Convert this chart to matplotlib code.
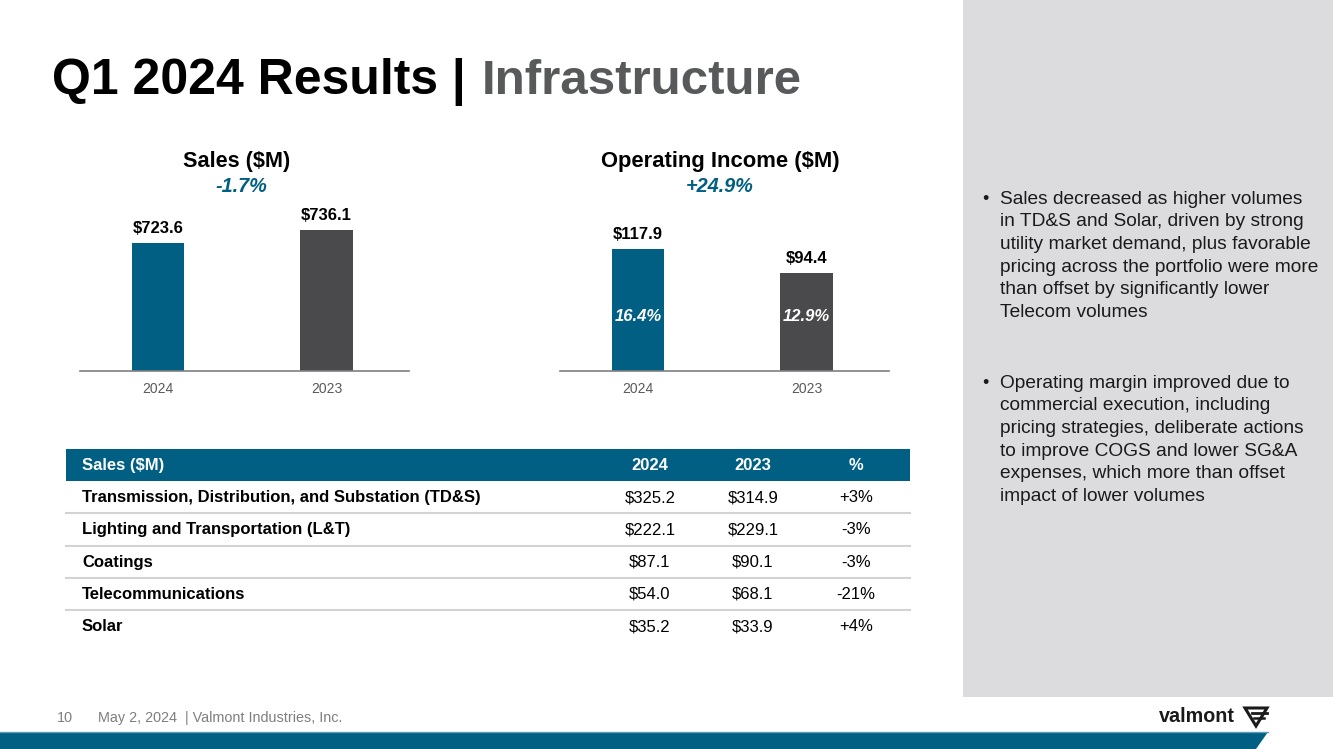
import matplotlib.pyplot as plt
from matplotlib.patches import Rectangle, Polygon

plt.rcParams['font.family'] = ['Liberation Sans', 'DejaVu Sans']

BLUE = '#005F83'
DGRAY = '#4A4A4D'
PANEL = '#DCDCDE'

years = ['2024', '2023']
sales = [723.6, 736.1]
sales_lbl = ['$723.6', '$736.1']
sales_chg = '-1.7%'
op_inc = [117.9, 94.4]
op_lbl = ['$117.9', '$94.4']
op_chg = '+24.9%'
margins = ['16.4%', '12.9%']

tbl_head = ['Sales ($M)', '2024', '2023', '%']
segments = ['Transmission, Distribution, and Substation (TD&S)',
            'Lighting and Transportation (L&T)', 'Coatings',
            'Telecommunications', 'Solar']
seg_2024 = ['$325.2', '$222.1', '$87.1', '$54.0', '$35.2']
seg_2023 = ['$314.9', '$229.1', '$90.1', '$68.1', '$33.9']
seg_pct = ['+3%', '-3%', '-3%', '-21%', '+4%']

bullet1 = ['Sales decreased as higher volumes',
           'in TD&S and Solar, driven by strong',
           'utility market demand, plus favorable',
           'pricing across the portfolio were more',
           'than offset by significantly lower',
           'Telecom volumes']
bullet2 = ['Operating margin improved due to',
           'commercial execution, including',
           'pricing strategies, deliberate actions',
           'to improve COGS and lower SG&A',
           'expenses, which more than offset',
           'impact of lower volumes']

W, H = 1333, 749
fig = plt.figure(figsize=(W / 100, H / 100), dpi=100)
fig.patch.set_facecolor('white')

# background layer in pixel coordinates
bg = fig.add_axes([0, 0, 1, 1], zorder=0)
bg.set_xlim(0, W)
bg.set_ylim(H, 0)
bg.axis('off')

bg.add_patch(Rectangle((963, 0), W - 963, 697, color=PANEL, lw=0))
bg.add_patch(Polygon([(0, 732), (1268, 732), (1256, 749), (0, 749)], closed=True,
                     color=BLUE, lw=0))
bg.plot([0, 1268], [731.5, 731.5], color='#5E9DB8', lw=1)

# title
bg.text(52, 82, 'Q1 2024 Results |', fontsize=36, fontweight='bold', color='black',
        va='center', ha='left')
bg.text(482, 82, 'Infrastructure', fontsize=35.5, fontweight='bold', color='#58595B',
        va='center', ha='left')

# chart titles
bg.text(237, 161, 'Sales ($M)', fontsize=15.6, fontweight='bold', ha='center', va='center')
bg.text(241, 187, sales_chg, fontsize=14.3, fontweight='bold', style='italic', color=BLUE,
        ha='center', va='center')
bg.text(720, 161, 'Operating Income ($M)', fontsize=15.8, fontweight='bold', ha='center',
        va='center')
bg.text(720, 187, op_chg, fontsize=14.3, fontweight='bold', style='italic', color=BLUE,
        ha='center', va='center')


def bar_axes(left_px, lo, hi):
    ax = fig.add_axes([left_px / W, (H - 371) / H, 329 / W, 171 / H], zorder=2)
    ax.patch.set_alpha(0)
    ax.set_xlim(-0.463, 1.49)
    ax.set_ylim(lo, hi)
    for s in ['top', 'left', 'right']:
        ax.spines[s].set_visible(False)
    ax.spines['bottom'].set_color('#7F7F7F')
    ax.spines['bottom'].set_linewidth(1.2)
    ax.set_yticks([])
    ax.set_xticks([0, 1])
    ax.set_xticklabels(years, fontsize=10, color='#595959')
    ax.tick_params(axis='x', length=0, pad=8)
    return ax


ax1 = bar_axes(80, 600, 765)
ax1.bar([0, 1], sales, width=0.31, color=[BLUE, DGRAY], bottom=0)
for i, v in enumerate(sales):
    ax1.annotate(sales_lbl[i], (i, v), xytext=(0, 7), textcoords='offset pixels',
                 ha='center', va='bottom', fontsize=12, fontweight='bold')

ax2 = bar_axes(560, 0, 165)
ax2.bar([0, 1], op_inc, width=0.31, color=[BLUE, DGRAY])
for i, v in enumerate(op_inc):
    ax2.annotate(op_lbl[i], (i, v), xytext=(0, 7), textcoords='offset pixels',
                 ha='center', va='bottom', fontsize=12, fontweight='bold')
    ax2.text(i, 0.32, margins[i], transform=ax2.get_xaxis_transform(), ha='center',
             va='center', fontsize=12, fontweight='bold', style='italic', color='white')

# table
col_x = [82, 650, 753, 856]
bg.add_patch(Rectangle((66, 449), 844, 32, color=BLUE, lw=0))
for j, h in enumerate(tbl_head):
    bg.text(col_x[j], 470, h, color='white', fontsize=12, fontweight='bold',
            ha='left' if j == 0 else 'center', va='baseline')
for i, seg in enumerate(segments):
    y = 502 + i * 32.3
    bg.text(col_x[0], y, seg, fontsize=12, fontweight='bold', ha='left', va='baseline')
    bg.text(col_x[1], y, seg_2024[i], fontsize=12, ha='center', va='baseline')
    bg.text(col_x[2], y, seg_2023[i], fontsize=12, ha='center', va='baseline')
    bg.text(col_x[3], y, seg_pct[i], fontsize=12, ha='center', va='baseline')
    if i < len(segments) - 1:
        bg.plot([66, 910], [y + 11.3, y + 11.3], color='#D3D3D3', lw=1.5)

# bullets
for y0, lines in [(199, bullet1), (383, bullet2)]:
    bg.text(982, y0, '•', fontsize=13, ha='left', va='center', color='#1A1A1A')
    for k, ln in enumerate(lines):
        bg.text(1000, y0 + k * 22.7, ln, fontsize=13.8, ha='left', va='center',
                color='#1A1A1A')

# footer
bg.text(57, 718, '10', fontsize=10.4, color='#7F7F7F', ha='left', va='center')
bg.text(98, 718, 'May 2, 2024  | Valmont Industries, Inc.', fontsize=10.4,
        color='#7F7F7F', ha='left', va='center')
bg.text(1159, 717, 'valmont', fontsize=14.2, fontweight='heavy', color='#1A1A1A',
        ha='left', va='center')
bg.add_patch(Polygon([(1245, 708), (1267, 708), (1256, 726)], closed=True,
                     fc='none', ec='#1A1A1A', lw=2.2))
bg.plot([1252, 1267], [713, 713], color='#1A1A1A', lw=2)
bg.plot([1254, 1264], [717.5, 717.5], color='#1A1A1A', lw=1.8)

fig.savefig('out.png', dpi=100, facecolor='white')
